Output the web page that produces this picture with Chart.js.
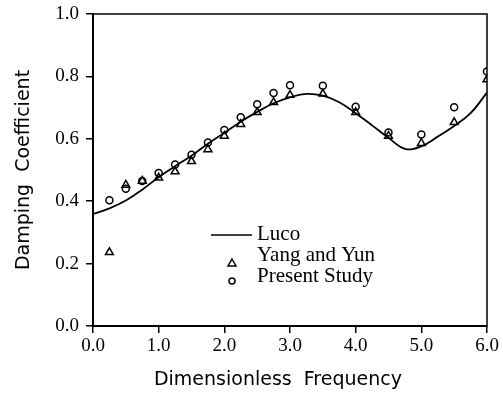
<!DOCTYPE html>
<html>
<head>
<meta charset="utf-8">
<script src="https://cdn.jsdelivr.net/npm/chart.js@4/dist/chart.umd.min.js"></script>
<style>
  html, body { margin: 0; padding: 0; background: #fff; }
  #wrap { width: 503px; height: 397px; }
</style>
</head>
<body>
<div id="wrap"><canvas id="chart"></canvas></div>
<script>
// Luco curve
const lucoX = [0, 0.25, 0.5, 0.75, 1.0, 1.25, 1.5, 1.75, 2.0, 2.25, 2.5, 2.75, 3.0,
  3.25, 3.5, 3.75, 4.0, 4.25, 4.5, 4.75, 5.0, 5.25, 5.5, 5.75, 6.0];
const lucoY = [0.359, 0.377, 0.402, 0.437, 0.477, 0.512, 0.546, 0.584, 0.619, 0.655, 0.686, 0.714, 0.733,
  0.744, 0.738, 0.717, 0.682, 0.643, 0.603, 0.568, 0.576, 0.607, 0.641, 0.682, 0.748];

// frequencies of the discrete results
const freqs = [0.25, 0.5, 0.75, 1.0, 1.25, 1.5, 1.75, 2.0, 2.25, 2.5, 2.75, 3.0, 3.5, 4.0, 4.5, 5.0, 5.5, 6.0];
const yangYun = [0.236, 0.452, 0.465, 0.475, 0.495, 0.528, 0.566, 0.609, 0.647, 0.685, 0.717, 0.74,
  0.744, 0.685, 0.609, 0.586, 0.653, 0.79];
const present = [0.403, 0.44, 0.465, 0.49, 0.518, 0.549, 0.588, 0.628, 0.669, 0.711, 0.747, 0.772,
  0.77, 0.703, 0.62, 0.614, 0.701, 0.816];

const xTicks = [0, 1, 2, 3, 4, 5, 6];
const yTicks = [0, 0.2, 0.4, 0.6, 0.8, 1.0];

const legendItems = ["Luco", "Yang and Yun", "Present Study"];

const serif = "'Liberation Serif', 'Times New Roman', serif";
const sans = "'DejaVu Sans', sans-serif";

const toXY = (xs, ys) => xs.map((x, i) => ({ x: x, y: ys[i] }));

// box round the plot + the little legend inside it
const framePlugin = {
  id: "frame",
  afterDraw(chart) {
    const ctx = chart.ctx;
    const a = chart.chartArea;
    ctx.save();
    ctx.strokeStyle = "#000";
    ctx.lineWidth = 1.5;
    ctx.strokeRect(a.left, a.top, a.right - a.left, a.bottom - a.top);

    const lx = a.left + 118;
    const ly = a.top + 221;
    ctx.lineWidth = 1.3;
    ctx.beginPath();
    ctx.moveTo(lx, ly);
    ctx.lineTo(lx + 41, ly);
    ctx.stroke();

    ctx.lineWidth = 1.5;
    const sx = lx + 21;
    ctx.beginPath();
    ctx.moveTo(sx, ly + 24);
    ctx.lineTo(sx + 4, ly + 31);
    ctx.lineTo(sx - 4, ly + 31);
    ctx.closePath();
    ctx.stroke();
    ctx.beginPath();
    ctx.arc(sx, ly + 46, 3, 0, Math.PI * 2);
    ctx.stroke();

    ctx.fillStyle = "#000";
    ctx.font = "21px " + serif;
    ctx.textBaseline = "alphabetic";
    ctx.textAlign = "left";
    legendItems.forEach((t, i) => {
      ctx.fillText(t, lx + 46, ly + 5 + i * 21);
    });
    ctx.restore();
  },
};

const ctx = document.getElementById("chart");
new Chart(ctx, {
  type: "scatter",
  data: {
    datasets: [
      {
        label: "Luco",
        type: "line",
        data: toXY(lucoX, lucoY),
        borderColor: "#000",
        borderWidth: 1.8,
        pointRadius: 0,
        tension: 0.4,
        fill: false,
      },
      {
        label: "Yang and Yun",
        data: toXY(freqs, yangYun),
        pointStyle: "triangle",
        pointRadius: 4.5,
        borderColor: "#000",
        backgroundColor: "rgba(0,0,0,0)",
        borderWidth: 1.5,
      },
      {
        label: "Present Study",
        data: toXY(freqs, present),
        pointStyle: "circle",
        pointRadius: 3.5,
        borderColor: "#000",
        backgroundColor: "rgba(0,0,0,0)",
        borderWidth: 1.5,
      },
    ],
  },
  options: {
    responsive: true,
    maintainAspectRatio: false,
    animation: { duration: 0 },
    layout: { padding: { left: 0, right: 16, top: 14, bottom: 4 } },
    plugins: {
      legend: { display: false },
      tooltip: { enabled: false },
    },
    scales: {
      x: {
        type: "linear",
        min: 0,
        max: 6,
        afterBuildTicks: (scale) => {
          scale.ticks = xTicks.map((v) => ({ value: v }));
        },
        afterFit: (scale) => {
          scale.height = 397 - 326 - 4;
          scale.paddingLeft = 0;
          scale.paddingRight = 0;
        },
        ticks: {
          color: "#000",
          font: { family: serif, size: 19 },
          padding: 2,
          maxRotation: 0,
          callback: (v) => v.toFixed(1),
        },
        grid: {
          drawOnChartArea: false,
          tickLength: 7,
          color: "#000",
          lineWidth: 1.5,
        },
        border: { color: "#000", width: 2 },
        title: {
          display: true,
          // trailing spaces nudge the centred title a little to the left, as in the original
          text: "Dimensionless  Frequency    ",
          color: "#000",
          font: { family: sans, size: 19 },
          padding: { top: 0, bottom: 2 },
        },
      },
      y: {
        type: "linear",
        min: 0,
        max: 1,
        afterBuildTicks: (scale) => {
          scale.ticks = yTicks.map((v) => ({ value: v }));
        },
        afterFit: (scale) => {
          scale.width = 93;
          scale.paddingTop = 0;
          scale.paddingBottom = 0;
        },
        ticks: {
          color: "#000",
          font: { family: serif, size: 19 },
          padding: 7,
          callback: (v) => v.toFixed(1),
        },
        grid: {
          drawOnChartArea: false,
          tickLength: 7,
          color: "#000",
          lineWidth: 1.5,
        },
        border: { color: "#000", width: 2 },
        title: {
          display: true,
          text: "Damping  Coefficient",
          color: "#000",
          font: { family: sans, size: 19 },
          padding: { top: 13, bottom: 0 },
        },
      },
    },
  },
  plugins: [framePlugin],
});
</script>
</body>
</html>
